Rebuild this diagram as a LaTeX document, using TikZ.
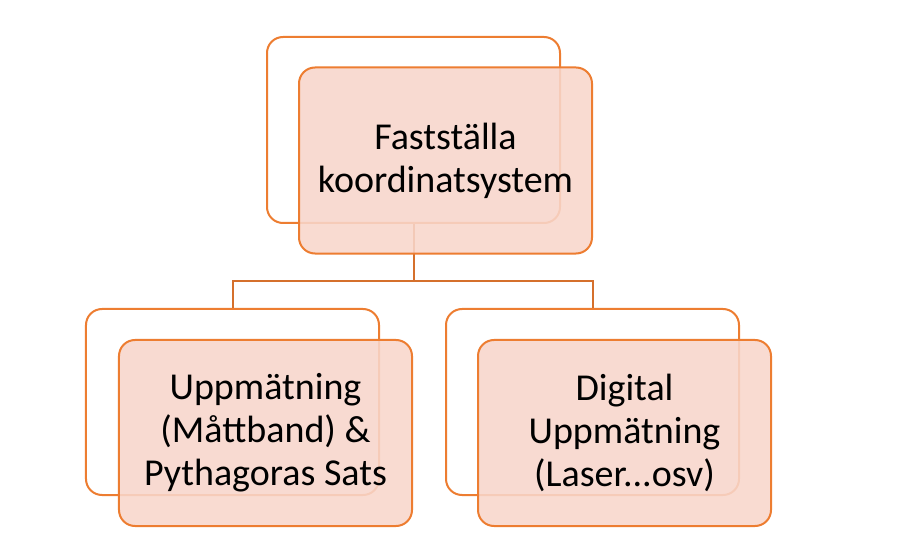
\documentclass[tikz,border=0pt]{standalone}
\usepackage{fontspec}
\setmainfont{Carlito}
\definecolor{accent}{HTML}{ED7D31}
\definecolor{linec}{HTML}{D5702C}
\definecolor{tint}{HTML}{F8D6CB}
\begin{document}
\begin{tikzpicture}[x=1bp,y=-1bp,
  backbox/.style={draw=accent, line width=2bp, fill=white, rounded corners=16bp,
    minimum width=293bp, minimum height=186bp, inner sep=0pt},
  frontbox/.style={draw=accent, line width=2bp, fill=tint, fill opacity=0.88, text opacity=1,
    rounded corners=16bp, minimum width=293bp, minimum height=186bp, inner sep=0pt,
    align=center, font=\fontsize{38bp}{43bp}\selectfont},
  conn/.style={draw=linec, line width=2bp}]
\useasboundingbox (0,0) rectangle (921,559);
\node[backbox] (b0) at (413.5,130) {};
\node[backbox] (b1) at (232.5,402) {};
\node[backbox] (b2) at (592.5,402) {};
\coordinate (j) at (413,281);
\draw[conn] (b0.south) -- (b0.south |- j) -| (b1.north);
\draw[conn] (b0.south |- j) -| (b2.north);
\node[frontbox] (f0) at (445.5,160.5) {Fastställa\\koordinatsystem};
\node[frontbox] (f1) at (265.5,433) {Uppmätning\\ (Måttband) \&\\Pythagoras Sats};
\node[frontbox] (f2) at (624.5,433) {Digital\\Uppmätning\\(Laser...osv)};
\end{tikzpicture}
\end{document}
